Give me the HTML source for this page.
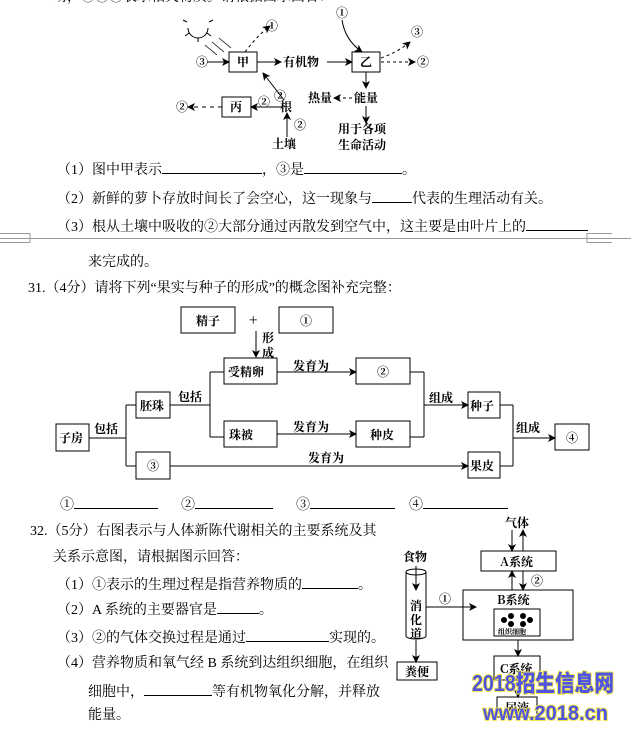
<!DOCTYPE html>
<html><head><meta charset="utf-8">
<style>
html,body{margin:0;padding:0;background:#fff;}
body{width:631px;height:736px;position:relative;overflow:hidden;font-family:"Liberation Serif","Noto Serif CJK SC",serif;color:#000;}
.t{position:absolute;font-size:14px;line-height:16px;white-space:nowrap;}
.b{display:inline-block;border-bottom:1px solid #000;height:13px;vertical-align:baseline;}
svg{position:absolute;left:0;top:0;}
svg text{font-family:"Noto Serif CJK SC","Noto Sans CJK SC",serif;font-weight:bold;font-size:12px;}
</style></head><body>
<div class="t" style="left:53px;top:-10px;">动，①②③表示相关物质。请根据图示回答：</div>

<svg width="631" height="736" viewBox="0 0 631 736">
<defs>
<marker id="a" markerWidth="8" markerHeight="8" refX="7" refY="4" orient="auto" markerUnits="userSpaceOnUse"><path d="M0,0 L8,4 L0,8 L2,4 Z" fill="#000"/></marker>
</defs>
<g stroke="#000" stroke-width="1" fill="none">
<path d="M188,28 A10,10 0 0 0 208,28"/>
<path d="M187,22 l-4,-2 M189,33 l-4,3 M198,38 l0,4 M207,33 l4,3 M209,22 l4,-2"/>
<path d="M205,45 l12,10 M212,42 l12,10 M219,38 l12,10" stroke-width="0.8"/>
<rect x="229" y="52" width="28" height="20"/>
<rect x="352" y="52" width="28" height="20"/>
<rect x="222" y="97" width="29" height="20"/>
<path d="M207,62 L229,62" marker-end="url(#a)"/>
<path d="M257,62 L281,62" marker-end="url(#a)"/>
<path d="M327,62 L352,62" marker-end="url(#a)"/>
<path d="M245,52 Q258,35 270,26" stroke-dasharray="3,3" marker-end="url(#a)"/>
<path d="M342,20 Q345,40 362,52" marker-end="url(#a)"/>
<path d="M381,58 Q398,52 410,42" stroke-dasharray="3,3" marker-end="url(#a)"/>
<path d="M381,62 L415,62" stroke-dasharray="3,3" marker-end="url(#a)"/>
<path d="M366,72 L366,88" marker-end="url(#a)"/>
<path d="M352,98 L334,98" stroke-dasharray="3,3" marker-end="url(#a)"/>
<path d="M366,106 L366,123" marker-end="url(#a)"/>
<path d="M222,107 L188,107" stroke-dasharray="4,4" marker-end="url(#a)"/>
<path d="M282,107 L251,107" marker-end="url(#a)"/>
<path d="M284,100 L263,73" marker-end="url(#a)"/>
<path d="M287,137 L287,113" marker-end="url(#a)"/>

<rect x="181" y="307" width="54" height="26"/>
<rect x="279" y="307" width="54" height="26"/>
<path d="M256,331 L256,357" marker-end="url(#a)"/>
<rect x="224" y="358" width="53" height="26"/>
<rect x="356" y="358" width="54" height="26"/>
<rect x="136" y="392" width="34" height="26"/>
<rect x="224" y="421" width="53" height="26"/>
<rect x="356" y="421" width="54" height="26"/>
<rect x="56" y="424" width="33" height="27"/>
<rect x="136" y="452" width="34" height="27"/>
<rect x="468" y="392" width="32" height="26"/>
<rect x="468" y="452" width="32" height="26"/>
<rect x="555" y="424" width="34" height="26"/>
<path d="M277,372 L356,372" marker-end="url(#a)"/>
<path d="M277,434 L356,434" marker-end="url(#a)"/>
<path d="M170,405 L210,405 M210,372 L210,437 M210,372 L224,372 M210,437 L224,437"/>
<path d="M89,438 L126,438 M126,405 L126,466 M126,405 L136,405 M126,466 L136,466"/>
<path d="M410,372 L424,372 M410,437 L424,437 M424,372 L424,437"/>
<path d="M424,405 L468,405" marker-end="url(#a)"/>
<path d="M170,466 L468,466" marker-end="url(#a)"/>
<path d="M500,405 L513,405 M500,466 L513,466 M513,405 L513,466"/>
<path d="M513,438 L555,438" marker-end="url(#a)"/>

<rect x="481" y="551" width="75" height="20"/>
<rect x="463" y="590" width="110" height="50"/>
<rect x="494" y="609" width="46" height="27"/>
<rect x="494" y="656" width="46" height="24"/>
<rect x="497" y="697" width="40" height="20"/>
<rect x="397" y="662" width="40" height="18"/>
<path d="M512,530 L512,551" marker-end="url(#a)"/>
<path d="M523,551 L523,530" marker-end="url(#a)"/>
<path d="M512,590 L512,571" marker-end="url(#a)"/>
<path d="M523,571 L523,590" marker-end="url(#a)"/>
<path d="M518,640 L518,656" marker-end="url(#a)"/>
<path d="M518,680 L518,697" marker-end="url(#a)"/>
<path d="M406,572 L406,636 M426,572 L426,636"/>
<ellipse cx="416" cy="572" rx="10" ry="3"/>
<path d="M406,636 A10,3 0 0 0 426,636"/>
<path d="M416,566 L416,590" marker-end="url(#a)"/>
<path d="M426,607 L476,607" marker-end="url(#a)"/>
<path d="M416,640 L416,662" marker-end="url(#a)"/>
<g fill="#000" stroke="none">
<circle cx="504" cy="620" r="3"/><circle cx="511" cy="616" r="3"/><circle cx="523" cy="616" r="3"/><circle cx="530" cy="620" r="3"/><circle cx="511" cy="624" r="3"/><circle cx="523" cy="624" r="3"/>
</g>
</g>

<g fill="#000">
<text x="237" y="66">甲</text>
<text x="360" y="66">乙</text>
<text x="230" y="111">丙</text>
<text x="283" y="66">有机物</text>
<text x="196" y="66">③</text>
<text x="266" y="30">①</text>
<text x="336" y="17">①</text>
<text x="411" y="36">③</text>
<text x="417" y="66">②</text>
<text x="308" y="102">热量</text>
<text x="354" y="102">能量</text>
<text x="338" y="133">用于各项</text>
<text x="338" y="149">生命活动</text>
<text x="176" y="111">②</text>
<text x="258" y="106">②</text>
<text x="274" y="100">②</text>
<text x="280" y="111">根</text>
<text x="294" y="129">②</text>
<text x="272" y="148">土壤</text>

<text x="196" y="325">精子</text>
<text x="300" y="325">①</text>
<text x="249" y="325" style="font-size:14px">+</text>
<text x="262" y="342">形</text>
<text x="262" y="357">成</text>
<text x="228" y="376">受精卵</text>
<text x="377" y="376">②</text>
<text x="140" y="410">胚珠</text>
<text x="229" y="439">珠被</text>
<text x="370" y="439">种皮</text>
<text x="59" y="442">子房</text>
<text x="147" y="470">③</text>
<text x="470" y="410">种子</text>
<text x="470" y="470">果皮</text>
<text x="566" y="442">④</text>
<text x="293" y="370">发育为</text>
<text x="293" y="431">发育为</text>
<text x="308" y="462">发育为</text>
<text x="178" y="401">包括</text>
<text x="94" y="433">包括</text>
<text x="429" y="402">组成</text>
<text x="516" y="432">组成</text>

<text x="505" y="527">气体</text>
<text x="500" y="566">A系统</text>
<text x="531" y="585">②</text>
<text x="497" y="604">B系统</text>
<text x="498" y="634" style="font-size:7px">组织细胞</text>
<text x="500" y="673">C系统</text>
<text x="505" y="712">尿液</text>
<text x="403" y="561">食物</text>
<text x="410" y="610">消</text>
<text x="410" y="624">化</text>
<text x="410" y="638">道</text>
<text x="439" y="603">①</text>
<text x="405" y="676">粪便</text>
</g>
<text x="472" y="691" textLength="142" lengthAdjust="spacingAndGlyphs" style="font-family:'Liberation Sans','Noto Sans CJK SC',sans-serif;font-size:23px;font-weight:900;fill:#4f55e0;stroke:#f3e64a;stroke-width:2;paint-order:stroke">2018招生信息网</text>
<text x="483" y="720" textLength="125" lengthAdjust="spacingAndGlyphs" style="font-family:'Liberation Sans',sans-serif;font-size:21px;font-weight:bold;fill:#4f55e0;stroke:#f3e64a;stroke-width:2;paint-order:stroke">www.2018.cn</text>

<g stroke="#999" fill="none">
<path d="M0,238.5 L631,238.5"/>
<path d="M0,233.5 L30,233.5 M0,242.5 L30,242.5 M30,233 L30,243"/>
<path d="M587,233.5 L612,233.5 M587,242.5 L612,242.5 M587,233 L587,243"/>
</g>
</svg>

<div class="t" style="left:57px;top:160px;">（1）图中甲表示<span class="b" style="width:100px"></span>，③是<span class="b" style="width:98px"></span>。</div>
<div class="t" style="left:57px;top:189px;">（2）新鲜的萝卜存放时间长了会空心，这一现象与<span class="b" style="width:40px"></span>代表的生理活动有关。</div>
<div class="t" style="left:57px;top:217px;">（3）根从土壤中吸收的②大部分通过丙散发到空气中，这主要是由叶片上的<span class="b" style="width:62px"></span></div>
<div class="t" style="left:88px;top:255px;">来完成的。</div>
<div class="t" style="left:28px;top:281px;">31.（4分）请将下列“果实与种子的形成”的概念图补充完整：</div>

<div class="t" style="left:60px;top:495px;">①<span class="b" style="width:84px"></span></div>
<div class="t" style="left:181px;top:495px;">②<span class="b" style="width:78px"></span></div>
<div class="t" style="left:296px;top:495px;">③<span class="b" style="width:85px"></span></div>
<div class="t" style="left:409px;top:495px;">④<span class="b" style="width:85px"></span></div>

<div class="t" style="left:30px;top:524px;">32.（5分）右图表示与人体新陈代谢相关的主要系统及其</div>
<div class="t" style="left:53px;top:550px;">关系示意图，请根据图示回答：</div>
<div class="t" style="left:57px;top:575px;">（1）①表示的生理过程是指营养物质的<span class="b" style="width:56px"></span>。</div>
<div class="t" style="left:57px;top:600px;">（2）A 系统的主要器官是<span class="b" style="width:42px"></span>。</div>
<div class="t" style="left:57px;top:628px;">（3）②的气体交换过程是通过<span class="b" style="width:83px"></span>实现的。</div>
<div class="t" style="left:57px;top:656px;">（4）营养物质和氧气经 B 系统到达组织细胞，在组织</div>
<div class="t" style="left:88px;top:682px;">细胞中，<span class="b" style="width:68px"></span>等有机物氧化分解，并释放</div>
<div class="t" style="left:88px;top:708px;">能量。</div>
</body></html>
